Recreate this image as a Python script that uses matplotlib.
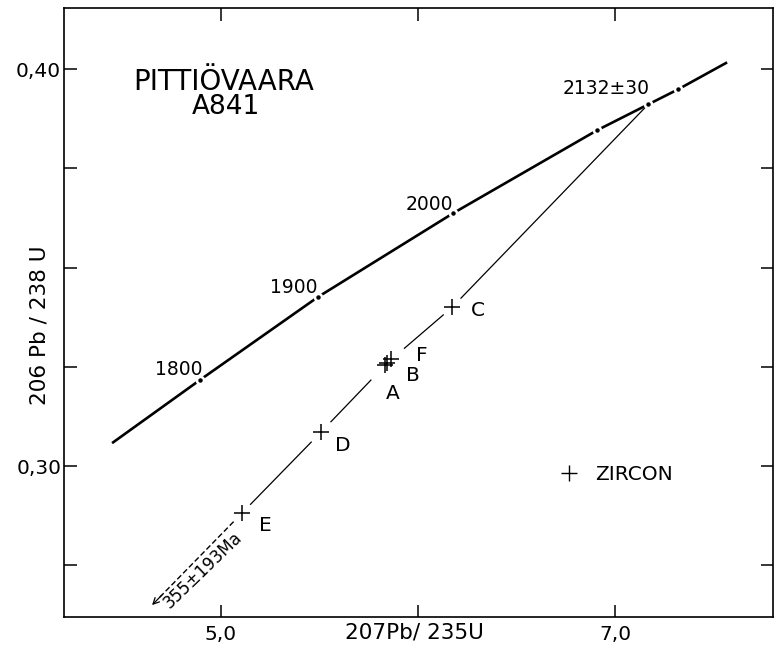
import numpy as np
import matplotlib
matplotlib.use("Agg")
import matplotlib.pyplot as plt
from matplotlib.ticker import FixedLocator, FixedFormatter

plt.rcParams["font.family"] = ["DejaVu Sans"]

# concordia curve (207Pb/235U, 206Pb/238U)
conc_x = [4.447, 4.893, 5.492, 6.178, 6.909, 7.168, 7.320, 7.569]
conc_y = [0.3058, 0.3217, 0.3426, 0.3637, 0.3846, 0.3911, 0.3949, 0.4017]

# age marks on the concordia
mark_x = [4.893, 5.492, 6.178, 6.909, 7.168, 7.320]
mark_y = [0.3217, 0.3426, 0.3637, 0.3846, 0.3911, 0.3949]
age_labels = ["1800", "1900", "2000", "", "2132±30", ""]

# zircon fractions
names = ["C", "F", "B", "A", "D", "E"]
zx = [6.173, 5.863, 5.843, 5.832, 5.508, 5.107]
zy = [0.3400, 0.3269, 0.3259, 0.3254, 0.3086, 0.2882]

# discordia: upper intercept and where the dashed arrow stops
upper = (7.168, 0.3911)
lower_tip = (4.650, 0.2650)
lower_age = "355±193Ma"

xticks = [5.0, 6.0, 7.0]
xticklabels = ["5,0", "", "7,0"]
yticks = [0.275, 0.30, 0.325, 0.35, 0.375, 0.40]
yticklabels = ["", "0,30", "", "", "", "0,40"]

fig = plt.figure(figsize=(7.77, 6.51), dpi=100)
ax = fig.add_axes([64 / 777, 1 - 617 / 651, 709 / 777, 609 / 651])
ax.set_xlim(4.203, 7.802)
ax.set_ylim(0.262, 0.4154)

for s in ax.spines.values():
    s.set_linewidth(1.2)

ax.xaxis.set_major_locator(FixedLocator(xticks))
ax.xaxis.set_major_formatter(FixedFormatter(xticklabels))
ax.yaxis.set_major_locator(FixedLocator(yticks))
ax.yaxis.set_major_formatter(FixedFormatter(yticklabels))
ax.tick_params(direction="in", length=9, width=1.1, top=True, right=True,
               labelsize=14.5)
ax.tick_params(axis="x", pad=6)
ax.tick_params(axis="y", pad=2)

# concordia with small gaps + dots at the age marks
ax.plot(conc_x, conc_y, color="black", lw=1.9, solid_capstyle="butt", zorder=2)
ax.plot(mark_x, mark_y, "o", ms=7, mfc="white", mec="none", zorder=3)
ax.plot(mark_x, mark_y, "o", ms=2.2, color="black", zorder=4)

lab_off = {"1800": (4.904, 0.3244), "1900": (5.492, 0.3451),
           "2000": (6.178, 0.3660), "2132±30": (7.178, 0.3952)}
for lab in age_labels:
    if lab:
        x, y = lab_off[lab]
        ax.text(x, y, lab, fontsize=13.5, ha="right", va="center")

# discordia, broken around the data points
chain_x = [upper[0], zx[0], np.mean(zx[1:4]), zx[4], zx[5]]
chain_y = [upper[1], zy[0], np.mean(zy[1:4]), zy[4], zy[5]]
gap = [0.0, 0.045, 0.085, 0.05, 0.043]
for i in range(len(chain_x) - 1):
    x0, y0, x1, y1 = chain_x[i], chain_y[i], chain_x[i + 1], chain_y[i + 1]
    k = (y1 - y0) / (x1 - x0)
    xa = x0 - gap[i]
    xb = x1 + gap[i + 1]
    ax.plot([xa, xb], [y0 + k * (xa - x0), y0 + k * (xb - x0)],
            color="black", lw=0.9, zorder=2)

# dashed extension toward the lower intercept
k = (zy[5] - lower_tip[1]) / (zx[5] - lower_tip[0])
xs = zx[5] - 0.043
ys = zy[5] + k * (xs - zx[5])
ax.plot([xs, lower_tip[0] + 0.03], [ys, lower_tip[1] + 0.03 * k], color="black",
        lw=1.0, ls=(0, (4, 2)), zorder=2)
ax.annotate("", xy=lower_tip, xytext=(lower_tip[0] + 0.05, lower_tip[1] + 0.05 * k),
            arrowprops=dict(arrowstyle="->", lw=0.9, color="black",
                            shrinkA=0, shrinkB=0, mutation_scale=11))
ax.text(4.910, 0.2738, lower_age, fontsize=12, rotation=44,
        rotation_mode="anchor", ha="center", va="center")

# data crosses and their letters
ax.plot(zx, zy, "+", ms=12, mew=1.1, color="black", zorder=5)
name_pos = {"C": (6.305, 0.3393), "F": (6.020, 0.3279), "B": (5.975, 0.3229),
            "A": (5.873, 0.3184), "D": (5.619, 0.3053), "E": (5.223, 0.2851)}
for n in names:
    x, y = name_pos[n]
    ax.text(x, y, n, fontsize=14.5, ha="center", va="center")

# legend
ax.plot([6.766], [0.2982], "+", ms=12, mew=1.0, color="black")
ax.text(6.898, 0.2980, "ZIRCON", fontsize=14.5, ha="left", va="center")

ax.text(4.553, 0.3967, "PITTIÖVAARA", fontsize=20, ha="left", va="center")
ax.text(4.853, 0.3904, "A841", fontsize=19, ha="left", va="center")

ax.set_xlabel("207Pb/ 235U", fontsize=15.5, va="center")
ax.xaxis.set_label_coords((414 - 64) / 709, -(632 - 617) / 609)
ax.set_ylabel("206 Pb / 238 U", fontsize=15.5, va="center")
ax.yaxis.set_label_coords((40 - 64) / 709, (617 - 325) / 609)

fig.savefig("out.png", dpi=100)
